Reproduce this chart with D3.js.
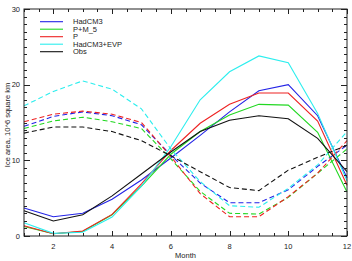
<!DOCTYPE html>
<html>
<head>
<meta charset="utf-8">
<script src="https://cdn.jsdelivr.net/npm/d3@7"></script>
<style>
  body { margin: 0; background: #fff; }
  svg { display: block; font-family: "Liberation Sans", Arial, sans-serif; }
  .lbl { font-size: 7.5px; fill: #222; }
</style>
</head>
<body>
<svg id="chart" width="352" height="261"></svg>
<script>
// months on the x axis
const months = [1, 2, 3, 4, 5, 6, 7, 8, 9, 10, 11, 12];

// run names, legend order
const runs = ["HadCM3", "P+M_5", "P", "HadCM3+EVP", "Obs"];
const runColors = ["#2323e6", "#22d822", "#ee2222", "#2ceeee", "#111111"];

// southern hemisphere ice area (solid), 10^6 km^2
const shHadCM3 = [3.7, 2.55, 3.0, 4.85, 7.4, 10.3, 13.3, 16.4, 19.2, 20.0, 15.9, 7.7];
const shPM5    = [1.25, 0.3, 0.6, 2.8, 6.6, 10.8, 13.8, 16.0, 17.4, 17.3, 13.7, 5.8];
const shP      = [1.35, 0.3, 0.65, 2.85, 6.9, 11.3, 14.9, 17.4, 18.9, 18.9, 15.2, 6.7];
const shEVP    = [1.75, 0.35, 0.5, 2.5, 6.6, 11.8, 18.0, 21.7, 23.8, 22.9, 16.2, 7.3];
const shObs    = [3.35, 1.98, 2.8, 5.3, 8.2, 11.1, 13.8, 15.3, 15.9, 15.5, 12.9, 8.5];

// northern hemisphere ice area (dashed)
const nhHadCM3 = [14.5, 15.8, 16.4, 15.9, 14.7, 10.7, 7.0, 4.4, 4.4, 6.1, 9.2, 12.0];
const nhPM5    = [14.2, 15.2, 15.7, 15.1, 14.2, 10.2, 5.9, 3.0, 2.9, 5.1, 8.3, 11.5];
const nhP      = [15.1, 16.1, 16.5, 16.1, 15.0, 10.5, 5.6, 2.55, 2.55, 5.2, 8.3, 12.6];
const nhEVP    = [17.2, 19.1, 20.5, 19.4, 16.8, 11.5, 7.2, 4.0, 3.8, 6.3, 9.4, 13.8];
const nhObs    = [13.6, 14.4, 14.4, 13.8, 12.6, 10.6, 8.5, 6.4, 6.0, 8.7, 10.4, 12.0];

const shSeries = [shHadCM3, shPM5, shP, shEVP, shObs];
const nhSeries = [nhHadCM3, nhPM5, nhP, nhEVP, nhObs];

const xTicks = [2, 4, 6, 8, 10, 12];
const yTicks = [0, 10, 20, 30];

const svg = d3.select("#chart");
const pLeft = 24, pRight = 347, pTop = 9, pBottom = 236;

const x = d3.scaleLinear().domain([1, 12]).range([pLeft, pRight]);
const y = d3.scaleLinear().domain([0, 30]).range([pBottom, pTop]);

const line = d3.line()
  .x((d, i) => x(months[i]))
  .y(d => y(d));

// lines
runs.forEach((r, k) => {
  svg.append("path")
    .attr("d", line(shSeries[k]))
    .attr("fill", "none")
    .attr("stroke", runColors[k])
    .attr("stroke-width", 1.1);
  svg.append("path")
    .attr("d", line(nhSeries[k]))
    .attr("fill", "none")
    .attr("stroke", runColors[k])
    .attr("stroke-width", 1.1)
    .attr("stroke-dasharray", "5,3");
});

// frame
svg.append("rect")
  .attr("x", pLeft).attr("y", pTop)
  .attr("width", pRight - pLeft).attr("height", pBottom - pTop)
  .attr("fill", "none").attr("stroke", "#222").attr("stroke-width", 1);

// ticks, IDL style: inward, mirrored on all four sides
const tickColor = "#222";
d3.range(1, 12.01, 0.5).forEach(m => {
  const major = xTicks.includes(m);
  const len = major ? 5 : 3;
  const px = Math.round(x(m)) + 0.5;
  svg.append("line").attr("x1", px).attr("x2", px)
    .attr("y1", pBottom).attr("y2", pBottom - len).attr("stroke", tickColor);
  svg.append("line").attr("x1", px).attr("x2", px)
    .attr("y1", pTop).attr("y2", pTop + len).attr("stroke", tickColor);
});
d3.range(0, 30.01, 1).forEach(v => {
  const major = v % 10 === 0;
  const len = major ? 6 : 3;
  const py = Math.round(y(v)) + 0.5;
  svg.append("line").attr("x1", pLeft).attr("x2", pLeft + len)
    .attr("y1", py).attr("y2", py).attr("stroke", tickColor);
  svg.append("line").attr("x1", pRight).attr("x2", pRight - len)
    .attr("y1", py).attr("y2", py).attr("stroke", tickColor);
});

// tick labels
xTicks.forEach(m => {
  svg.append("text").attr("class", "lbl")
    .attr("x", x(m)).attr("y", 249)
    .attr("text-anchor", "middle").text(m);
});
yTicks.forEach(v => {
  svg.append("text").attr("class", "lbl")
    .attr("x", 20).attr("y", y(v) + 2.5)
    .attr("text-anchor", "end").text(v);
});

// axis titles
svg.append("text").attr("class", "lbl")
  .attr("x", x(6.5)).attr("y", 258)
  .attr("text-anchor", "middle").text("Month");
svg.append("text").attr("class", "lbl")
  .attr("transform", "translate(10," + 125 + ") rotate(-90)")
  .attr("text-anchor", "middle").text("Ice area, 10^6 square km");

// legend
runs.forEach((r, k) => {
  const ly = 21.7 + k * 7.5;
  svg.append("line")
    .attr("x1", 40).attr("x2", 63)
    .attr("y1", ly).attr("y2", ly)
    .attr("stroke", runColors[k]).attr("stroke-width", 1.1);
  svg.append("text").attr("class", "lbl")
    .attr("x", 73).attr("y", ly + 2.6).text(r);
});
</script>
</body>
</html>
